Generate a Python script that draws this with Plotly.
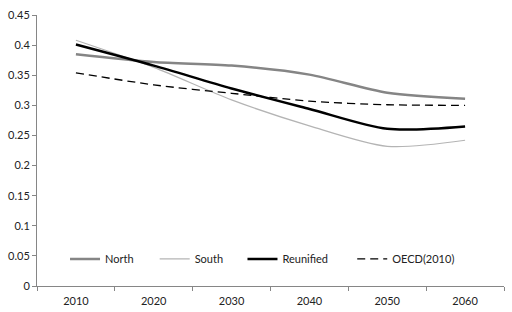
import plotly.graph_objects as go

years = ["2010", "2020", "2030", "2040", "2050", "2060"]
north = [0.385, 0.372, 0.366, 0.351, 0.321, 0.311]
south = [0.408, 0.363, 0.309, 0.266, 0.232, 0.242]
reunified = [0.401, 0.366, 0.328, 0.294, 0.261, 0.265]
oecd = [0.354, 0.334, 0.320, 0.307, 0.301, 0.300]

fig = go.Figure()
fig.add_trace(go.Scatter(x=years, y=north, name="North", mode="lines", legend="legend",
                         line=dict(color="#858585", width=2.5, shape="spline", smoothing=0.8)))
fig.add_trace(go.Scatter(x=years, y=south, name="South", mode="lines", legend="legend2",
                         line=dict(color="#b4b4b4", width=1.2, shape="spline", smoothing=0.8)))
fig.add_trace(go.Scatter(x=years, y=reunified, name="Reunified", mode="lines", legend="legend3",
                         line=dict(color="#000000", width=2.5, shape="spline", smoothing=0.8)))
fig.add_trace(go.Scatter(x=years, y=oecd, name="OECD(2010)", mode="lines", legend="legend4",
                         line=dict(color="#000000", width=1.3, dash="8px,5px", shape="spline", smoothing=0.8)))

leg = dict(orientation="h", y=0.1, xanchor="left", yanchor="middle",
           bgcolor="rgba(0,0,0,0)", font=dict(size=11))

fig.update_layout(
    width=512, height=312,
    margin=dict(l=37, r=8, t=15, b=26),
    paper_bgcolor="white", plot_bgcolor="white",
    font=dict(family="Lato, Open Sans, sans-serif", size=11, color="#222222"),
    showlegend=True,
    legend=dict(leg, x=0.06),
    legend2=dict(leg, x=0.252),
    legend3=dict(leg, x=0.44),
    legend4=dict(leg, x=0.675),
)
fig.update_xaxes(type="category", range=[-0.5, 5.5], showline=True, linecolor="#868686",
                 linewidth=1, ticks="outside", tickson="boundaries", ticklen=4,
                 tickcolor="#868686", showgrid=False, zeroline=False,
                 ticklabelstandoff=5, automargin=False)
fig.update_yaxes(range=[0, 0.45], dtick=0.05, tick0=0, showline=True, linecolor="#868686",
                 linewidth=1, ticks="outside", ticklen=4, tickcolor="#868686",
                 showgrid=False, zeroline=False, automargin=False)

fig.write_html("out.html", config={"displayModeBar": False},
               post_script="document.body.style.margin='0';")
